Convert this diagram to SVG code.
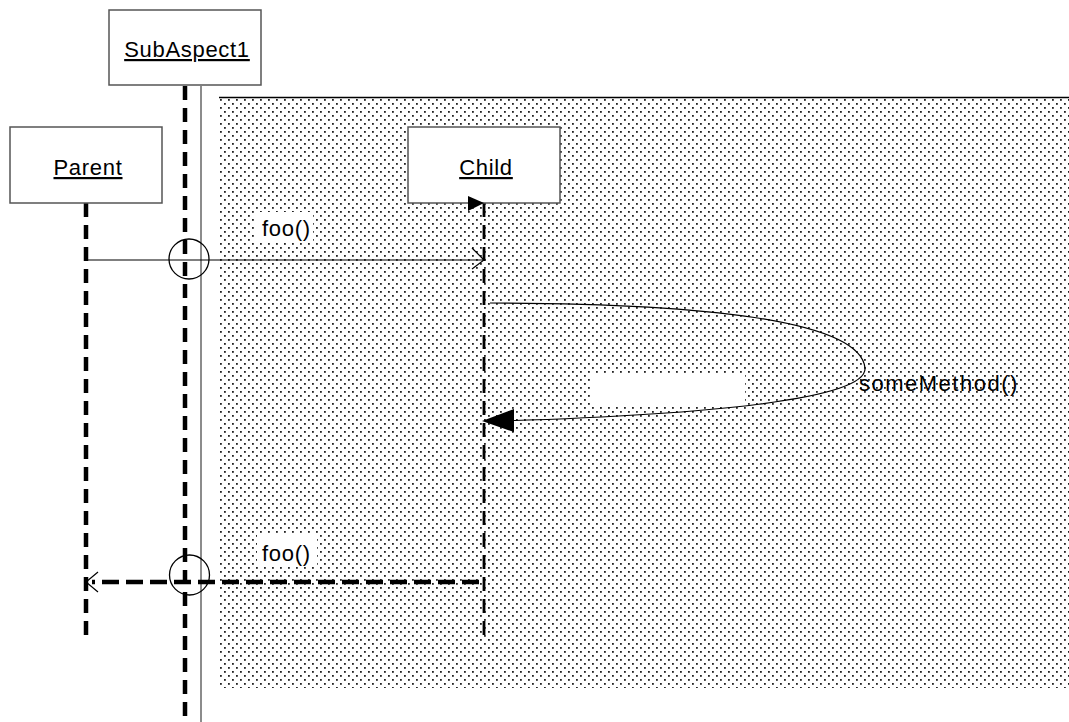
<svg xmlns="http://www.w3.org/2000/svg" width="1069" height="722" viewBox="0 0 1069 722">
  <style>
    .lbl { font-family: "Liberation Sans", Arial, sans-serif; font-size: 22px; letter-spacing: 0.7px; fill: #000; }
    .wide { letter-spacing: 1.5px; }
    .name { text-decoration: underline; }
    .box { fill: #fff; stroke: #555; stroke-width: 1.5; }
    .life-thick { stroke: #000; stroke-width: 4.5; stroke-dasharray: 14 8; fill: none; }
    .life-thin { stroke: #000; stroke-width: 2.8; stroke-dasharray: 14 8; fill: none; }
    .msg { stroke: #000; stroke-width: 1.2; fill: none; }
    .ret { stroke: #000; stroke-width: 4.3; stroke-dasharray: 17 7; fill: none; }
    .bg { fill: #fff; }
  </style>
  <defs>
    <pattern id="dots" x="220" y="99" width="16" height="16" patternUnits="userSpaceOnUse">
      <g fill="#222">
        <rect x="0" y="0" width="1.8" height="1.8"/>
        <rect x="8" y="0" width="1.8" height="1.8"/>
        <rect x="4" y="4" width="1.8" height="1.8"/>
        <rect x="12" y="4" width="1.8" height="1.8"/>
        <rect x="0" y="8" width="1.8" height="1.8"/>
        <rect x="8" y="8" width="1.8" height="1.8"/>
        <rect x="4" y="12" width="1.8" height="1.8"/>
        <rect x="12" y="12" width="1.8" height="1.8"/>
      </g>
    </pattern>
  </defs>

  <rect width="1069" height="722" fill="#fff"/>

  <!-- shaded aspect region -->
  <g id="aspect-region">
    <rect x="220" y="98" width="849" height="590" fill="url(#dots)"/>
    <line x1="219" y1="97.5" x2="1069" y2="97.5" stroke="#000" stroke-width="1.5"/>
    <line x1="201" y1="86" x2="201" y2="722" stroke="#666" stroke-width="1.5"/>
  </g>

  <!-- label backgrounds -->
  <rect class="bg" x="255" y="212" width="58" height="31"/>
  <rect class="bg" x="257" y="533" width="60" height="33"/>
  <rect class="bg" x="592" y="373" width="153" height="33"/>

  <!-- lifelines -->
  <g id="lifelines">
    <line class="life-thick" x1="185" y1="86" x2="185" y2="722"/>
    <line class="life-thick" x1="86" y1="203" x2="86" y2="640"/>
    <line class="life-thin" x1="484" y1="203" x2="484" y2="640"/>
  </g>

  <!-- objects -->
  <g id="SubAspect1">
    <rect class="box" x="109" y="10" width="152" height="75"/>
    <text class="lbl name" x="187" y="57" text-anchor="middle">SubAspect1</text>
  </g>
  <g id="Parent">
    <rect class="box" x="10" y="127" width="152" height="76"/>
    <text class="lbl name" x="88" y="175" text-anchor="middle">Parent</text>
  </g>
  <g id="Child">
    <rect class="box" x="408" y="127" width="152" height="76"/>
    <text class="lbl name" x="486" y="175" text-anchor="middle">Child</text>
    <polygon points="468,196 484,203 468,211" fill="#000"/>
  </g>

  <!-- messages -->
  <g id="connectors">
    <!-- call foo() -->
    <line class="msg" x1="86" y1="260" x2="484" y2="260"/>
    <polyline class="msg" points="472,248 484,260 472,269"/>
    <circle cx="189" cy="259" r="20" fill="none" stroke="#000" stroke-width="1.3"/>
    <text class="lbl" x="262" y="236">foo()</text>

    <!-- self call someMethod() -->
    <path class="msg" d="M490,303 C700,303 860,320 865,368 C868,400 700,415 500,421"/>
    <polygon points="482,421 514,409 514,432" fill="#000"/>
    <text class="lbl wide" x="859" y="391">someMethod()</text>

    <!-- return foo() -->
    <line class="ret" x1="479" y1="582" x2="92" y2="582"/>
    <polyline class="msg" points="98,572 86,582 98,592"/>
    <circle cx="189.5" cy="575" r="20" fill="none" stroke="#000" stroke-width="1.3"/>
    <text class="lbl" x="262" y="561">foo()</text>
  </g>
</svg>
